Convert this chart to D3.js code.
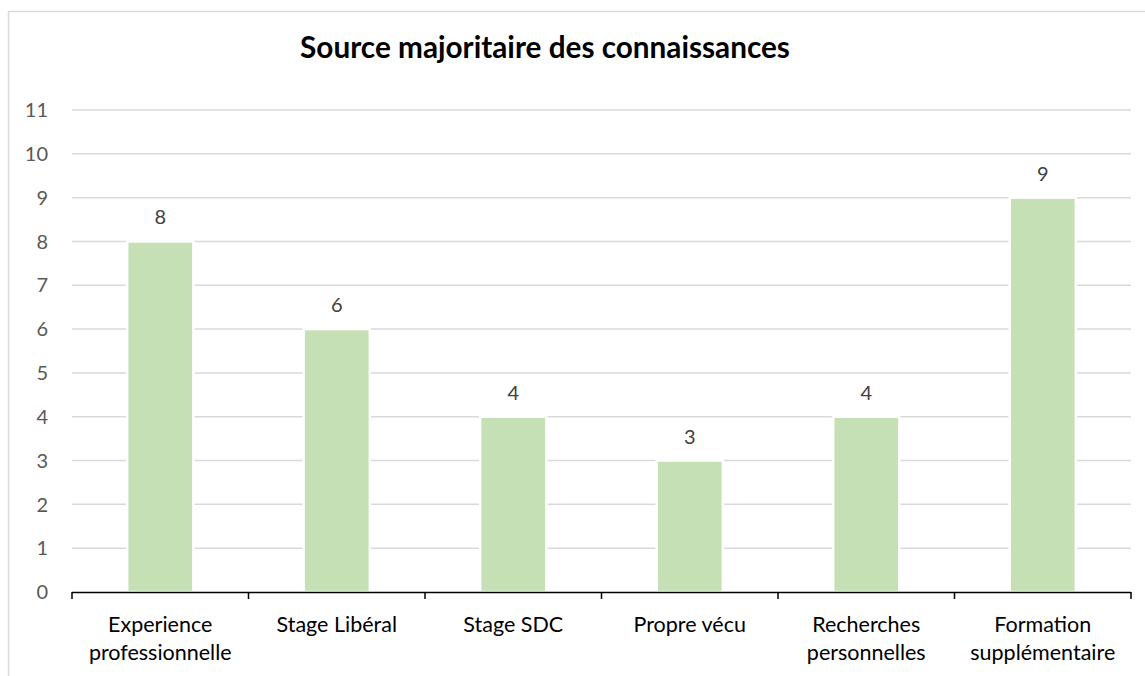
<!DOCTYPE html>
<html><head><meta charset="utf-8">
<script src="https://cdn.jsdelivr.net/npm/d3@7"></script>
<style>body{margin:0;background:#fff}svg{display:block}</style>
</head><body>
<script>
const categories = [["Experience","professionnelle"],["Stage Libéral"],["Stage SDC"],["Propre vécu"],["Recherches","personnelles"],["Formation","supplémentaire"]];
const values = [8,6,4,3,4,9];
const yTicks = [0,1,2,3,4,5,6,7,8,9,10,11];
const title = "Source majoritaire des connaissances";

const W=1145,H=676;
const svg=d3.select("body").append("svg").attr("width",W).attr("height",H);
svg.append("rect").attr("width",W).attr("height",H).attr("fill","#fff");
svg.append("path").attr("d",`M8.5,${H+5} V11.5 H${W+5}`).attr("fill","none").attr("stroke","#d9d9d9").attr("stroke-width",1.5);

const x=d3.scaleBand().domain(categories.map((d,i)=>i)).range([72,1131]).paddingInner(0.625).paddingOuter(0.3125);
const xb=d3.scaleLinear().domain([0,categories.length]).range([72,1131]);
const y=d3.scaleLinear().domain([0,11]).range([592,110]);
const font="Lato, 'Open Sans', sans-serif";

svg.append("g").selectAll("line").data(yTicks.filter(d=>d>0)).join("line")
 .attr("x1",72).attr("x2",1131).attr("y1",d=>y(d)).attr("y2",d=>y(d))
 .attr("stroke","#d9d9d9").attr("stroke-width",1.5);

svg.append("g").selectAll("text").data(yTicks).join("text")
 .attr("x",48).attr("y",d=>y(d)).attr("dy","0.36em").attr("text-anchor","end")
 .attr("font-family",font).attr("font-size",20).attr("fill","#595959").text(d=>d);

svg.append("g").selectAll("rect").data(values).join("rect")
 .attr("x",(d,i)=>x(i)).attr("width",x.bandwidth())
 .attr("y",d=>y(d)).attr("height",d=>y(0)-y(d))
 .attr("fill","#c5e0b4").attr("stroke","#fff").attr("stroke-width",2.5);

svg.append("g").selectAll("text").data(values).join("text")
 .attr("x",(d,i)=>x(i)+x.bandwidth()/2).attr("y",d=>y(d)-17)
 .attr("text-anchor","middle").attr("font-family",font).attr("font-size",20).attr("fill","#404040").text(d=>d);

const ax=svg.append("g");
ax.append("line").attr("x1",72).attr("x2",1131).attr("y1",592.5).attr("y2",592.5).attr("stroke","#000").attr("stroke-width",1.5);
ax.selectAll("line.t").data(d3.range(categories.length+1)).join("line").attr("class","t")
 .attr("x1",d=>xb(d)).attr("x2",d=>xb(d)).attr("y1",592).attr("y2",599).attr("stroke","#000").attr("stroke-width",1.5);

const cl=svg.append("g").selectAll("text").data(categories).join("text")
 .attr("x",(d,i)=>x(i)+x.bandwidth()/2).attr("y",632)
 .attr("text-anchor","middle").attr("font-family",font).attr("font-size",21.5).attr("fill","#000");
cl.each(function(d){
  const t=d3.select(this);
  d.forEach((s,j)=>t.append("tspan").attr("x",t.attr("x")).attr("dy",j?28:0).text(s));
});

const tt=svg.append("text").attr("x",545).attr("y",58).attr("text-anchor","middle")
 .attr("font-family",font).attr("font-weight","bold").attr("font-size",30).attr("fill","#000").text(title);
const w=tt.node().getComputedTextLength();
tt.attr("font-size",30*490/w);
</script>
</body></html>
